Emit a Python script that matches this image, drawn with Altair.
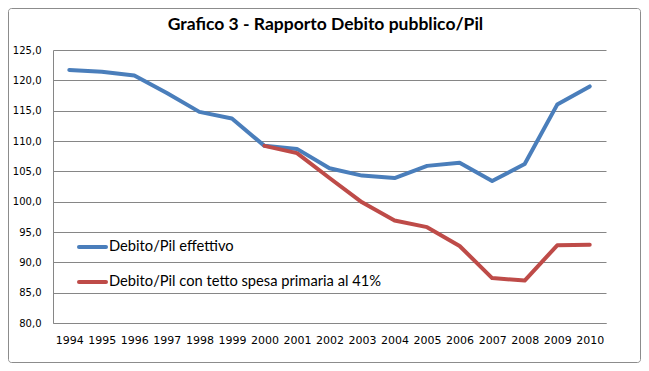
import altair as alt
import pandas as pd

years = [str(y) for y in range(1994, 2011)]
effettivo = [121.7, 121.4, 120.8, 117.9, 114.8, 113.7, 109.2, 108.7, 105.5, 104.3,
             103.9, 105.9, 106.4, 103.4, 106.2, 116.0, 119.0]
tetto = [None, None, None, None, None, None, 109.2, 108.0, 103.9, 99.9,
         96.9, 95.8, 92.7, 87.4, 87.0, 92.8, 92.9]
series_names = ["Debito/Pil effettivo", "Debito/Pil con tetto spesa primaria al 41%"]
series_colors = ["#4A7EBB", "#BE4B48"]
title_text = "Grafico 3 - Rapporto Debito pubblico/Pil"
y_ticks = [80, 85, 90, 95, 100, 105, 110, 115, 120, 125]

rows = []
for yr, a, b in zip(years, effettivo, tetto):
    rows.append({"anno": yr, "serie": series_names[0], "valore": a})
    if b is not None:
        rows.append({"anno": yr, "serie": series_names[1], "valore": b})
df = pd.DataFrame(rows)

W, H = 553, 273
PL, PT, PR, PB = 45, 42, 35, 40

color_scale = alt.Scale(domain=series_names, range=series_colors)

lines = alt.Chart(df).mark_line(strokeWidth=4, strokeJoin="round", strokeCap="round").encode(
    x=alt.X("anno:O", sort=years,
            scale=alt.Scale(type="point", padding=0.5),
            axis=alt.Axis(title=None, labelAngle=0, ticks=False, domainColor="#868686",
                          labelFont="DejaVu Sans", labelFontSize=11, labelColor="#000000",
                          labelPadding=11, grid=False)),
    y=alt.Y("valore:Q",
            scale=alt.Scale(domain=[80, 125], nice=False, zero=False),
            axis=alt.Axis(title=None, values=y_ticks, ticks=False, domainColor="#868686",
                          gridColor="#868686", grid=True,
                          labelExpr="replace(format(datum.value, '.1f'), '.', ',')",
                          labelFont="DejaVu Sans", labelFontSize=10, labelColor="#000000",
                          labelPadding=12)),
    color=alt.Color("serie:N", scale=color_scale, legend=None),
    detail="serie:N",
)

leg_df = pd.DataFrame({"serie": series_names})
legend_layers = []
for i, name in enumerate(series_names):
    ypos = 197 + 35 * i
    base = alt.Chart(leg_df).transform_filter(alt.datum.serie == name)
    legend_layers.append(
        base.mark_rule(strokeWidth=4, strokeCap="round").encode(
            x=alt.value(26), x2=alt.value(53), y=alt.value(ypos),
            color=alt.Color("serie:N", scale=color_scale, legend=None))
    )
    legend_layers.append(
        base.mark_text(align="left", baseline="middle", font="Lato", fontSize=14.7, color="#000000").encode(
            x=alt.value(56), y=alt.value(ypos), text="serie:N")
    )

title_df = pd.DataFrame({"t": [title_text]})
title = alt.Chart(title_df).mark_text(font="Lato", fontSize=17.5, fontWeight="bold",
                                     align="center", baseline="middle", color="#000000").encode(
    x=alt.value(272.5), y=alt.value(-25), text="t:N")

border = alt.Chart(title_df).mark_rect(fill="transparent", stroke="#8c8c8c", strokeWidth=1,
                                      cornerRadius=3).encode(
    x=alt.value(-PL + 0.5), x2=alt.value(W + PR - 0.5),
    y=alt.value(-PT + 0.5), y2=alt.value(H + PB - 0.5))

chart = alt.layer(lines, *legend_layers, title, border).properties(
    width=W, height=H,
    autosize=alt.AutoSizeParams(type="none"),
    padding={"left": PL, "top": PT, "right": PR, "bottom": PB},
    background="white",
).configure_view(stroke=None)

chart.save("out.html", embed_options={"renderer": "svg", "actions": False})
